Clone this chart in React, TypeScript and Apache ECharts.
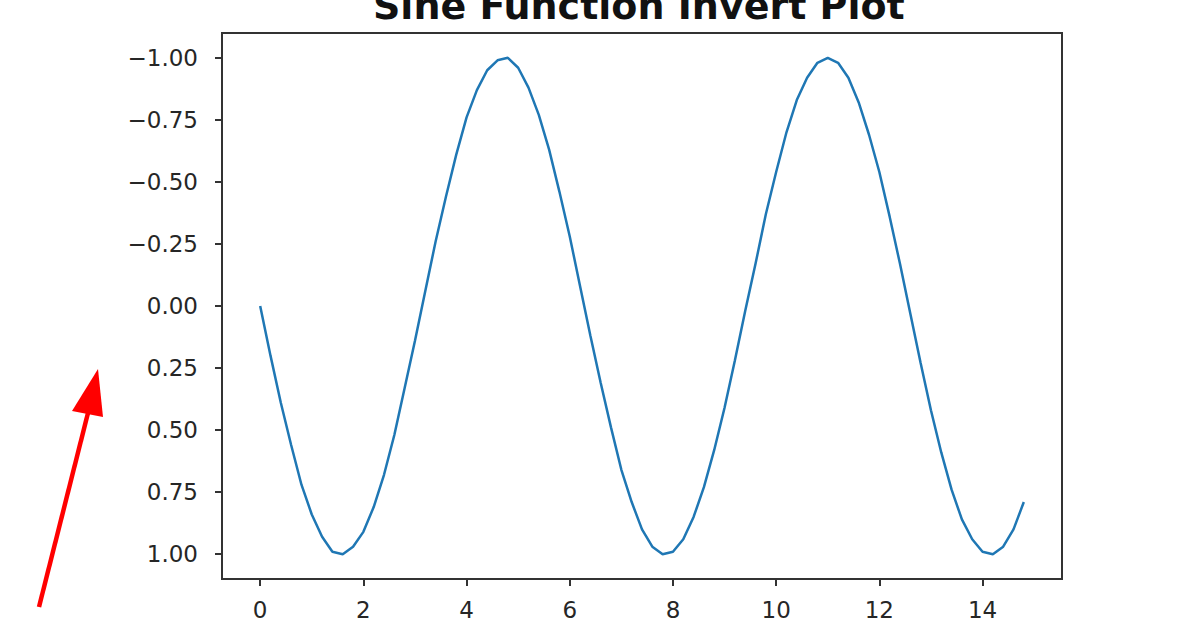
import { useEffect, useRef } from 'react'
import * as echarts from 'echarts'

// x samples (step 0.2) and sin values
const xValues = [
  0, 0.2, 0.4, 0.6, 0.8, 1.0, 1.2, 1.4, 1.6, 1.8,
  2.0, 2.2, 2.4, 2.6, 2.8, 3.0, 3.2, 3.4, 3.6, 3.8,
  4.0, 4.2, 4.4, 4.6, 4.8, 5.0, 5.2, 5.4, 5.6, 5.8,
  6.0, 6.2, 6.4, 6.6, 6.8, 7.0, 7.2, 7.4, 7.6, 7.8,
  8.0, 8.2, 8.4, 8.6, 8.8, 9.0, 9.2, 9.4, 9.6, 9.8,
  10.0, 10.2, 10.4, 10.6, 10.8, 11.0, 11.2, 11.4, 11.6, 11.8,
  12.0, 12.2, 12.4, 12.6, 12.8, 13.0, 13.2, 13.4, 13.6, 13.8,
  14.0, 14.2, 14.4, 14.6, 14.8,
]

const sineValues = [
  0.0, 0.2, 0.39, 0.56, 0.72, 0.84, 0.93, 0.99, 1.0, 0.97,
  0.91, 0.81, 0.68, 0.52, 0.33, 0.14, -0.06, -0.26, -0.44, -0.61,
  -0.76, -0.87, -0.95, -0.99, -1.0, -0.96, -0.88, -0.77, -0.63, -0.46,
  -0.28, -0.08, 0.12, 0.31, 0.49, 0.66, 0.79, 0.9, 0.97, 1.0,
  0.99, 0.94, 0.85, 0.73, 0.58, 0.41, 0.22, 0.02, -0.17, -0.37,
  -0.54, -0.7, -0.83, -0.92, -0.98, -1.0, -0.98, -0.92, -0.82, -0.69,
  -0.54, -0.36, -0.17, 0.03, 0.23, 0.42, 0.59, 0.74, 0.86, 0.94,
  0.99, 1.0, 0.97, 0.9, 0.79,
]

const xTicks = [0, 2, 4, 6, 8, 10, 12, 14]
const yTicks = [-1, -0.75, -0.5, -0.25, 0, 0.25, 0.5, 0.75, 1]

const FONT = '"DejaVu Sans", sans-serif'
const AXIS_COLOR = '#333'
const TEXT_COLOR = '#262626'

export default function App() {
  const chartRef = useRef<HTMLDivElement>(null)

  useEffect(() => {
    if (!chartRef.current) return
    const chart = echarts.init(chartRef.current, null, { renderer: 'svg' })

    const option: echarts.EChartsOption = {
      animation: false,
      backgroundColor: '#fff',
      title: {
        text: 'Sine Function Invert Plot',
        left: 368,
        top: -18,
        textStyle: {
          fontFamily: FONT,
          fontWeight: 'bold',
          fontSize: 38,
          color: '#111',
        },
      },
      grid: {
        left: 222,
        right: 134,
        top: 33,
        bottom: 49,
        show: true,
        borderColor: AXIS_COLOR,
        borderWidth: 2,
        backgroundColor: 'transparent',
      },
      xAxis: {
        type: 'value',
        min: -0.74,
        max: 15.54,
        axisLine: { show: true, onZero: false, lineStyle: { color: AXIS_COLOR, width: 2 } },
        axisTick: {
          show: true,
          customValues: xTicks,
          length: 7,
          lineStyle: { color: AXIS_COLOR, width: 2 },
        },
        axisLabel: {
          customValues: xTicks,
          margin: 19,
          fontFamily: FONT,
          fontSize: 23,
          color: TEXT_COLOR,
        },
        splitLine: { show: false },
      },
      yAxis: {
        type: 'value',
        inverse: true,
        min: -1.1,
        max: 1.1,
        axisLine: { show: true, onZero: false, lineStyle: { color: AXIS_COLOR, width: 2 } },
        axisTick: {
          show: true,
          customValues: yTicks,
          length: 7,
          lineStyle: { color: AXIS_COLOR, width: 2 },
        },
        axisLabel: {
          customValues: yTicks,
          margin: 24,
          fontFamily: FONT,
          fontSize: 23,
          color: TEXT_COLOR,
          formatter: (v: number) => v.toFixed(2).replace('-', '\u2212'),
        },
        splitLine: { show: false },
      },
      series: [
        {
          type: 'line',
          data: xValues.map((x, i) => [x, sineValues[i]]),
          symbol: 'none',
          lineStyle: { color: '#1f77b4', width: 2.5 },
        },
      ],
      graphic: [
        // red annotation arrow at the lower left
        {
          type: 'line',
          shape: { x1: 39, y1: 607, x2: 90, y2: 405 },
          style: { stroke: '#f00', lineWidth: 4.5 },
        },
        {
          type: 'polygon',
          shape: { points: [[98, 369], [72, 411], [103, 417]] },
          style: { fill: '#f00' },
        },
      ],
    }

    chart.setOption(option)
    return () => {
      chart.dispose()
    }
  }, [])

  return (
    <div
      ref={chartRef}
      style={{ position: 'fixed', left: 0, top: 0, width: 1196, height: 628 }}
    />
  )
}
